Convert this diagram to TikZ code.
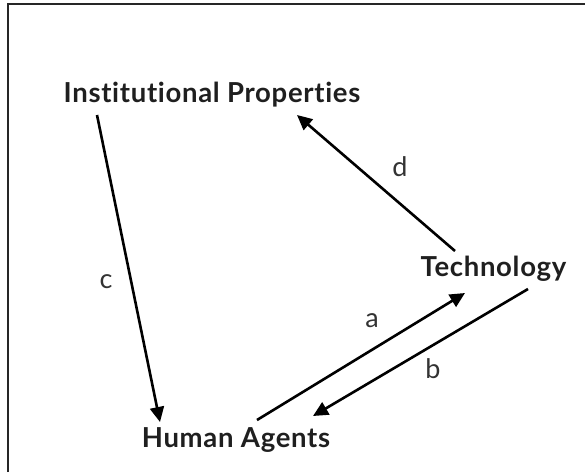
\documentclass[tikz,border=0pt]{standalone}
\usepackage{fontspec}
\setmainfont[Ligatures={NoCommon,NoDiscretionary}]{Lato}
\newfontfamily\conceptfont[Ligatures={NoCommon,NoDiscretionary},LetterSpace=2.5]{Lato}
\usetikzlibrary{arrows.meta}
\begin{document}
\begin{tikzpicture}[x=1pt,y=-1pt,
  concept/.style={font=\conceptfont\fontsize{27.5}{30}\selectfont\bfseries, text=black!88, inner sep=0pt, anchor=base},
  elabel/.style={font=\fontsize{27}{30}\selectfont, text=black!80, inner sep=0pt, anchor=base},
  link/.style={line width=2.6pt, -{Triangle[length=15pt,width=14pt]}}]
\useasboundingbox (0,0) rectangle (585,472);
\fill[white] (0,0) rectangle (585,472);
\draw[line width=2pt, black!85] (8,472) -- (8,3.5) -- (585,3.5);
% concepts
\node[concept] (ip) at (212,102.6) {Institutional Properties};
\node[concept] (tech) at (493.5,276) {Technology};
\node[concept] (ha) at (236,447) {Human Agents};
% connector end points
\coordinate (cS) at (97,115);
\coordinate (cE) at (160,422);
\coordinate (dS) at (455,251);
\coordinate (dE) at (297,115);
\coordinate (aS) at (257,420);
\coordinate (aE) at (465,293);
\coordinate (bS) at (528,289);
\coordinate (bE) at (313,416);
\draw[link] (cS) -- (cE);
\draw[link] (dS) -- (dE);
\draw[link] (aS) -- (aE);
\draw[link] (bS) -- (bE);
% labels
\node[elabel] (lc) at (106,288) {c};
\node[elabel] (ld) at (400,176) {d};
\node[elabel] (la) at (372,327) {a};
\node[elabel] (lb) at (433,378) {b};
\end{tikzpicture}
\end{document}
